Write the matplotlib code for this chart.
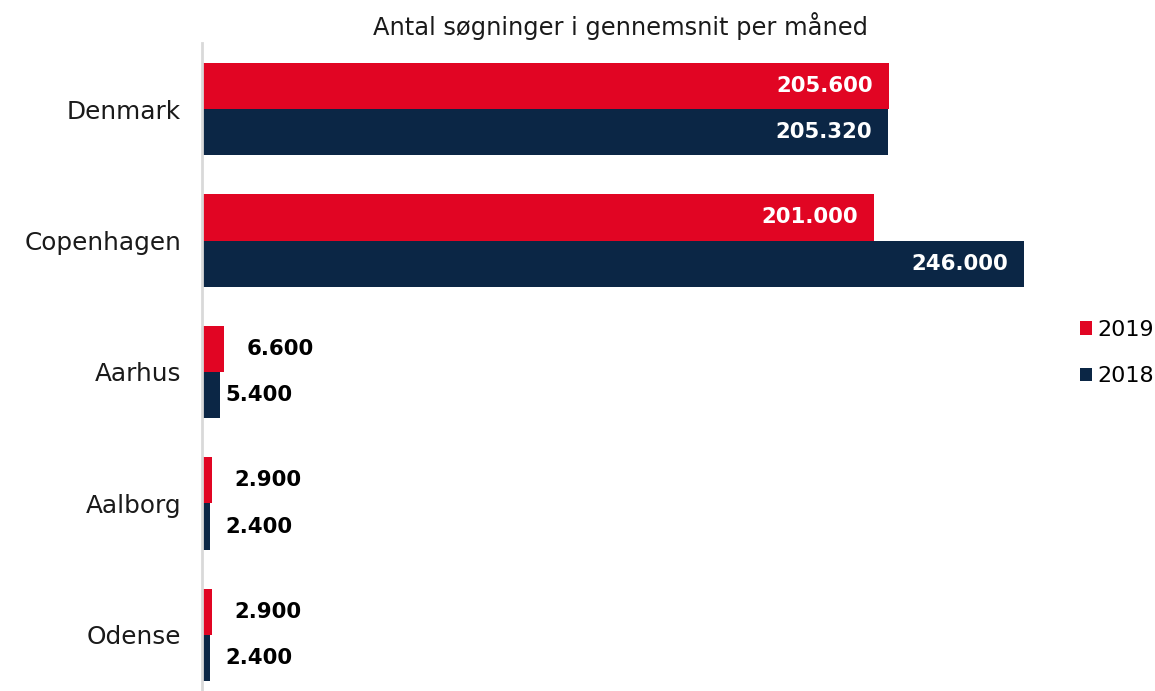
import matplotlib
matplotlib.use("Agg")
import matplotlib.pyplot as plt
import numpy as np

plt.rcParams['font.family'] = ['DejaVu Sans']

# data
cities = ["Denmark", "Copenhagen", "Aarhus", "Aalborg", "Odense"]
v2019 = [205600, 201000, 6600, 2900, 2900]
v2018 = [205320, 246000, 5400, 2400, 2400]
lbl2019 = ["205.600", "201.000", "6.600", "2.900", "2.900"]
lbl2018 = ["205.320", "246.000", "5.400", "2.400", "2.400"]

red = "#E10523"
navy = "#0B2645"

fig = plt.figure(figsize=(11.55, 6.91), dpi=100)
ax = fig.add_axes([0.1749, -0.0141, 0.7521, 0.9515])

y = np.arange(len(cities))
h = 0.35
b19 = ax.barh(y - h / 2, v2019, height=h, color=red, label="2019")
b18 = ax.barh(y + h / 2, v2018, height=h, color=navy, label="2018")

ax.set_xlim(0, 260000)
ax.set_ylim(4.5, -0.5)
ax.set_yticks(y)
ax.set_yticklabels(cities, fontsize=17.8, color="#1a1a1a")
ax.tick_params(axis='y', length=0, pad=15)
ax.set_xticks([])
for s in ["top", "right", "bottom"]:
    ax.spines[s].set_visible(False)
ax.spines["left"].set_color("#d9d9d9")
ax.spines["left"].set_linewidth(2)

px = 260000 / (0.7521 * 1155)  # data units per pixel

for i in range(len(cities)):
    # 2019
    if v2019[i] > 50000:
        ax.text(v2019[i] - 16 * px, y[i] - h / 2, lbl2019[i], ha="right", va="center",
                color="white", fontsize=15.3, fontweight="bold")
    else:
        ax.text(v2019[i] + 23 * px, y[i] - h / 2, lbl2019[i], ha="left", va="center",
                color="black", fontsize=15.3, fontweight="bold")
    # 2018
    if v2018[i] > 50000:
        ax.text(v2018[i] - 16 * px, y[i] + h / 2, lbl2018[i], ha="right", va="center",
                color="white", fontsize=15.3, fontweight="bold")
    else:
        ax.text(max(v2018[i] + 5 * px, 23 * px), y[i] + h / 2, lbl2018[i], ha="left",
                va="center", color="black", fontsize=15.3, fontweight="bold")

fig.text(0.537, 0.963, "Antal søgninger i gennemsnit per måned", ha="center",
         va="center", fontsize=17.4, color="#1a1a1a")

fig.legend(handles=[b19, b18], loc="center left", bbox_to_anchor=(0.935, 0.489),
           frameon=False, fontsize=16, handlelength=0.55, handleheight=0.55,
           handletextpad=0.25, labelspacing=1.2, borderaxespad=0, borderpad=0)

fig.savefig("out.png", dpi=100)
